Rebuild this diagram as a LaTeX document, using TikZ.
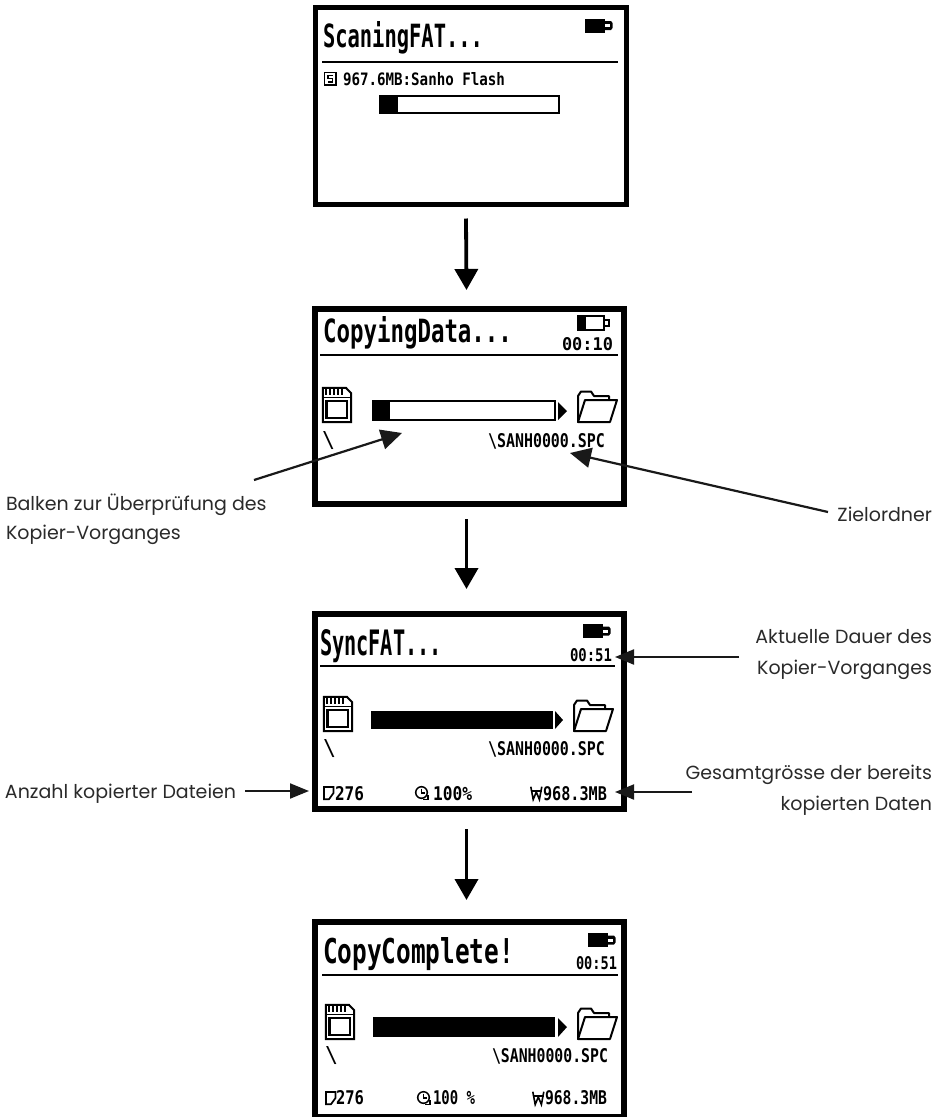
\documentclass[tikz,border=0pt]{standalone}
\usepackage{fontspec}
\usepackage{graphicx}
\setmainfont{Poppins}
\newfontfamily\lcdfont{DejaVu Sans Mono}
\usetikzlibrary{arrows.meta}
\definecolor{labelink}{HTML}{2A2A2A}
\tikzset{
  screen/.style={draw=black,fill=white,inner sep=0pt,outer sep=0pt},
  lcdtext/.style={inner sep=0pt,outer sep=0pt,anchor=base west,font=\lcdfont,text=black},
  lcdbold/.style={lcdtext,font=\lcdfont\bfseries},
  note/.style={inner sep=0pt,outer sep=0pt,text=labelink,font=\fontsize{19}{29}\selectfont},
  downarrow/.style={draw=black,line width=3.8pt,-{Triangle[length=21pt,width=23pt]}},
  diagarrow/.style={draw=black!90,line width=2.2pt,-{Triangle[length=21pt,width=20pt]}},
  horarrow/.style={draw=black!90,line width=2pt,-{Triangle[length=19pt,width=15pt]}},
  lcdrule/.style={draw=black,line width=1.6pt},
  icon/.style={draw=black,line width=2pt,line join=miter},
}
% name, x, baseline y, width, height, text
\newcommand{\lcd}[6]{\node[lcdtext] (#1) at (#2,#3) {\resizebox{#4pt}{#5pt}{#6}};}
\newcommand{\lcdb}[6]{\node[lcdbold] (#1) at (#2,#3) {\resizebox{#4pt}{#5pt}{#6}};}
\newcommand{\cardicon}[2]{%
  \begin{scope}[shift={(#1,#2)}]
    \draw[icon] (0.9,0.9) -- (24,0.9) -- (29,6) -- (29,35.2) -- (0.9,35.2) -- cycle;
    \draw[icon,line width=1pt] (0.9,10.5) -- (29,10.5);
    \foreach \q in {4,8,12,16,20}{\draw[black,line width=1.7pt] (\q,2) -- (\q,8);}
    \draw[icon,line width=2.2pt] (4.5,14) rectangle (25,31);
  \end{scope}}
\newcommand{\foldericon}[2]{%
  \begin{scope}[shift={(#1,#2)}]
    \draw[icon,line join=round] (1,32) -- (1,6) -- (4,1.5) -- (14,1.5) -- (17,6) -- (32,6) -- (32,10);
    \draw[icon,line join=round] (1,32) -- (8,10) -- (40,10) -- (33,32) -- cycle;
  \end{scope}}
\newcommand{\fullbattery}[2]{%
  \begin{scope}[shift={(#1,#2)}]
    \fill[black] (0,0) rectangle (20,14);
    \fill[black] (20,2.5) -- (26,2.5) -- (27.5,4.5) -- (27.5,9.5) -- (26,11.5) -- (20,11.5) -- cycle;
    \fill[white] (20,5.5) rectangle (25,8.5);
  \end{scope}}
\newcommand{\diskicon}[2]{%
  \begin{scope}[shift={(#1,#2)}]
    \draw[icon,line width=1.3pt] (0.6,0.6) rectangle (12,13);
    \draw[black,line width=1.3pt] (8.5,3.5) -- (4,3.5) -- (4,6.5) -- (8.5,6.5) -- (8.5,10) -- (4,10);
  \end{scope}}
\newcommand{\counticon}[2]{%
  \begin{scope}[shift={(#1,#2)}]
    \draw[icon,line width=1.7pt] (0.9,0.9) -- (10.5,0.9) -- (10.5,7) -- (6,13.2) -- (0.9,13.2) -- cycle;
  \end{scope}}
\newcommand{\clockicon}[2]{%
  \begin{scope}[shift={(#1,#2)}]
    \draw[icon,line width=1.5pt] (6.5,6.5) circle (5.8);
    \draw[black,line width=1.2pt] (6.5,2.5) -- (6.5,7) -- (10,7);
    \draw[black,line width=1.4pt] (8,13.5) -- (13,13.5) -- (13,9);
  \end{scope}}
\newcommand{\sizeicon}[2]{%
  \begin{scope}[shift={(#1,#2)}]
    \draw[black,line width=1.6pt] (0.8,0.7) -- (3.2,13.5) -- (6.3,6) -- (9.4,13.5) -- (11.8,0.7);
    \draw[black,line width=1.2pt] (0.8,5) -- (11.8,5);
  \end{scope}}
\begin{document}
\begin{tikzpicture}[x=1pt,y=-1pt]
\clip (0,0) rectangle (942,1117);
\fill[white] (0,0) rectangle (942,1117);

% ---------- screens
\node[screen,line width=5.2pt,minimum width=311pt,minimum height=197pt] (s1) at (471,106) {};
\node[screen,line width=6pt,minimum width=309pt,minimum height=195pt] (s2) at (469.5,406.5) {};
\node[screen,line width=6pt,minimum width=309pt,minimum height=195pt] (s3) at (469.5,711.5) {};
\node[screen,line width=6pt,minimum width=309pt,minimum height=195pt] (s4) at (469.5,1019.5) {};

% ---------- screen 1
\lcdb{t1}{323}{47}{160}{26}{ScaningFAT...}
\fullbattery{585}{18.5}
\draw[lcdrule,line width=2pt] (322,62) -- (618,62);
\diskicon{324}{72}
\lcdb{i1}{343}{85}{162}{13}{967.6MB:Sanho Flash}
\draw[black,line width=2pt] (380,96) rectangle (559,113);
\fill[black] (380,96) rectangle (398,113);

% ---------- screen 2
\lcdb{t2}{323}{342}{189}{26}{CopyingData...}
\draw[icon] (578,316) rectangle (604,330);
\fill[black] (578,316) rectangle (586,330);
\draw[icon,line width=1.5pt] (604,320) -- (609,320) -- (609,326) -- (604,326);
\lcdb{c2}{562}{350}{51}{13}{00:10}
\draw[lcdrule] (320,355) -- (618,355);
\cardicon{322}{387}
\draw[black,line width=2pt] (373,401) rectangle (555,420);
\fill[black] (373,401) rectangle (390,420);
\fill[black] (558,402) -- (567,411) -- (558,420) -- cycle;
\foldericon{577}{390}
\lcd{r2}{322}{447}{13}{16}{\textbackslash}
\lcdb{p2}{488}{447}{117}{14}{\textbackslash SANH0000.SPC}

% ---------- screen 3
\lcdb{t3}{320}{655}{122}{26}{SyncFAT...}
\fullbattery{583}{624}
\lcdb{c3}{570}{661}{42}{13}{00:51}
\draw[lcdrule] (320,666) -- (615,666);
\cardicon{323}{696}
\fill[black] (371,711) rectangle (553,729);
\fill[black] (555,711) -- (563,720) -- (555,729) -- cycle;
\foldericon{573}{699}
\lcd{r3}{323}{755}{13}{16}{\textbackslash}
\lcdb{p3}{488}{755}{117}{14}{\textbackslash SANH0000.SPC}
\counticon{323}{786}
\lcdb{n3}{335}{800}{29}{14}{276}
\clockicon{415}{786}
\lcdb{q3}{433}{800}{39}{14}{100\%}
\sizeicon{530}{786}
\lcdb{z3}{543}{800}{64}{14}{968.3MB}

% ---------- screen 4
\lcdb{t4}{323}{963}{191}{26}{CopyComplete!}
\fullbattery{588}{933}
\lcdb{c4}{576}{969}{41}{13}{00:51}
\draw[lcdrule] (322,975) -- (618,975);
\cardicon{325}{1004}
\fill[black] (373,1017) rectangle (555,1037);
\fill[black] (558,1018) -- (567,1027) -- (558,1037) -- cycle;
\foldericon{577}{1007}
\lcd{r4}{325}{1062}{13}{16}{\textbackslash}
\lcdb{p4}{492}{1062}{116}{14}{\textbackslash SANH0000.SPC}
\counticon{325}{1091}
\lcdb{n4}{336}{1104}{28}{14}{276}
\clockicon{417}{1091}
\lcdb{q4}{433}{1104}{42}{14}{100 \%}
\sizeicon{532}{1091}
\lcdb{z4}{545}{1104}{62}{14}{968.3MB}

% ---------- annotation labels
\node[note,anchor=base west] (lBar) at (6,510) {Balken zur Überprüfung des};
\node[note,anchor=base west] (lBarB) at (6,539) {Kopier-Vorganges};
\node[note,anchor=base east] (lZiel) at (932,521) {Zielordner};
\node[note,anchor=base east] (lDauer) at (932,643) {Aktuelle Dauer des};
\node[note,anchor=base east] (lDauerB) at (932,674) {Kopier-Vorganges};
\node[note,anchor=base east] (lGes) at (932,779) {Gesamtgrösse der bereits};
\node[note,anchor=base east] (lGesB) at (932,810) {kopierten Daten};
\node[note,anchor=base west] (lAnz) at (5,798) {Anzahl kopierter Dateien};

% ---------- connector ends
\coordinate (tailBar) at (254,480);
\coordinate (tipBar) at (402,433);
\coordinate (tailZiel) at (828,512);
\coordinate (tipZiel) at (570,453);
\coordinate (tailDauer) at (739,657);
\coordinate (tipDauer) at (615,657);
\coordinate (tailGes) at (692,792);
\coordinate (tipGes) at (615,792);
\coordinate (tailAnz) at (245,791);
\coordinate (tipAnz) at (309,791);

% ---------- connectors
\draw[downarrow] ([xshift=-5pt,yshift=-14pt]s1.south) -- ([xshift=-3pt,yshift=19pt]s2.north);
\draw[downarrow] ([xshift=-3pt,yshift=-15pt]s2.south) -- ([xshift=-3pt,yshift=25pt]s3.north);
\draw[downarrow] ([xshift=-3pt,yshift=-20pt]s3.south) -- ([xshift=-3pt,yshift=22pt]s4.north);
\draw[diagarrow] (tailBar) -- (tipBar);
\draw[diagarrow] (tailZiel) -- (tipZiel);
\draw[horarrow] (tailDauer) -- (tipDauer);
\draw[horarrow] (tailGes) -- (tipGes);
\draw[horarrow] (tailAnz) -- (tipAnz);
\end{tikzpicture}
\end{document}
